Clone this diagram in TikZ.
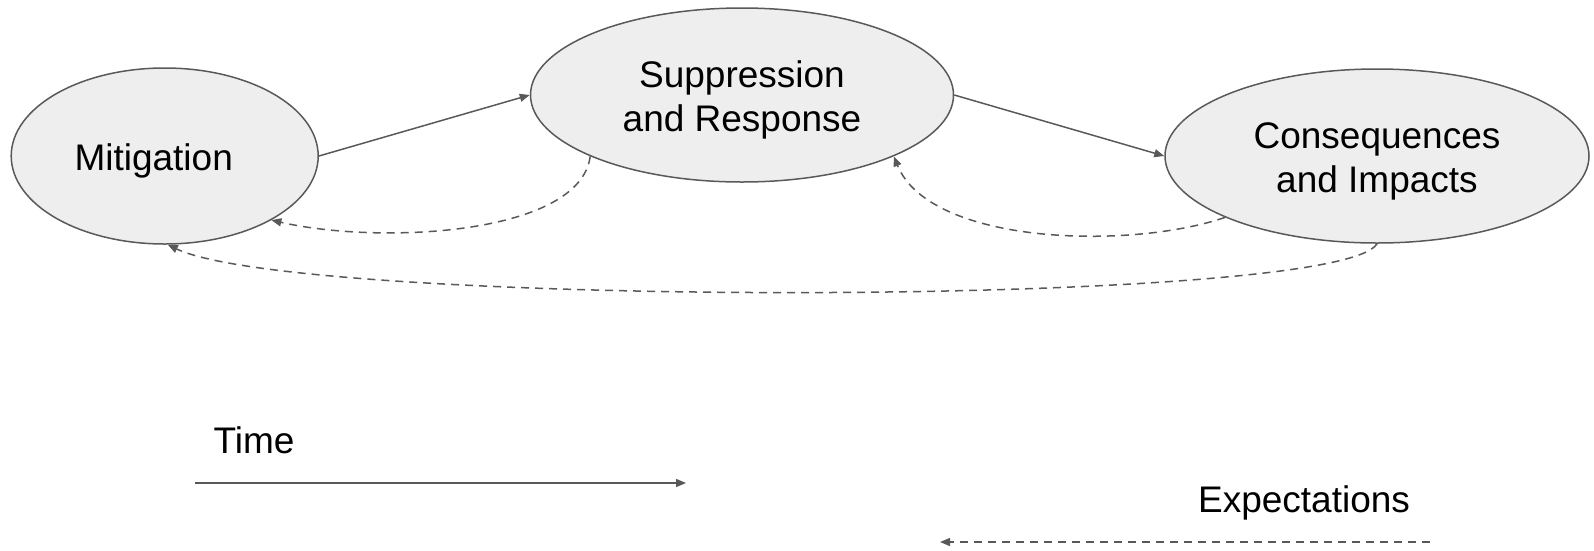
\documentclass[tikz,border=0pt]{standalone}
\usepackage{fontspec}
\setmainfont{Liberation Sans}
\usetikzlibrary{arrows.meta,shapes.geometric}
\definecolor{edgegray}{HTML}{595959}
\definecolor{fillgray}{HTML}{EEEEEE}
\begin{document}
\begin{tikzpicture}[x=1pt,y=1pt,
  bubble/.style={ellipse,draw=edgegray,fill=fillgray,line width=1.5pt,inner sep=0pt},
  conn/.style={draw=edgegray,line width=1.5pt,-{Triangle[length=10pt,width=8pt]},edgegray},
  dconn/.style={conn,dash pattern=on 8pt off 6pt},
  lbl/.style={inner sep=0pt,align=center,font=\fontsize{37}{44}\selectfont}]
\useasboundingbox (0,0) rectangle (1594,-550);
\node[bubble,minimum width=307pt,minimum height=176pt] (mit) at (164.7,-156) {};
\node[bubble,minimum width=423pt,minimum height=174pt] (sup) at (742,-95) {};
\node[bubble,minimum width=424pt,minimum height=174pt] (con) at (1377,-156) {};
\node[lbl] (mittext) at ([xshift=-11pt,yshift=-5pt]mit.center) {Mitigation};
\node[lbl] (suptext) at ([yshift=-5pt]sup.center) {Suppression\\and Response};
\node[lbl] (context) at ([yshift=-5pt]con.center) {Consequences\\and Impacts};
\draw[conn] (mit.east) -- (sup.west);
\draw[conn] (sup.east) -- (con.west);
\draw[dconn] (sup.202.6) .. controls (580,-235) and (380,-245) .. (mit.-31);
\draw[dconn] (con.202.1) .. controls (1130,-250) and (930,-245) .. (sup.-22.7);
\draw[dconn] (con.south) .. controls (1340,-308) and (300,-308) .. (mit.-88);
\node[lbl] (time) at (254,-440) {Time};
\coordinate (t0) at (195,-483);
\coordinate (t1) at (686,-483);
\draw[conn] (t0) -- (t1);
\node[lbl] (exp) at (1304,-503) {Expectations};
\coordinate (e0) at (1430,-542);
\coordinate (e1) at (940,-542);
\draw[dconn] (e0) -- (e1);
\end{tikzpicture}
\end{document}
